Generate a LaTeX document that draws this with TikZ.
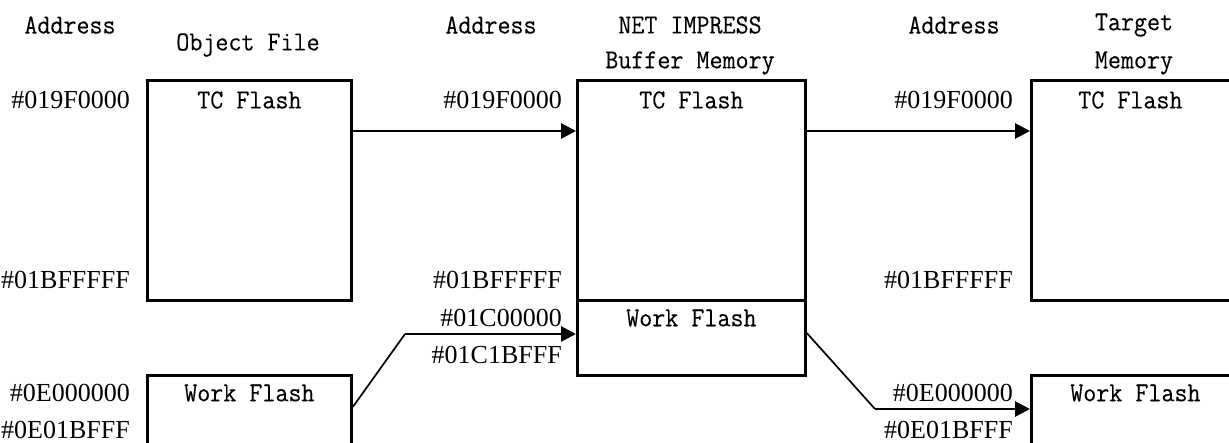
\documentclass[tikz,border=0pt]{standalone}
\usepackage{fontspec}
\setmainfont{Liberation Serif}
\setmonofont[FakeBold=0.2, FakeStretch=0.92]{Latin Modern Mono}
\usetikzlibrary{positioning,arrows.meta}
\tikzset{
  membox/.style={draw, line width=2.8pt, minimum width=204pt, anchor=north west, inner sep=0pt},
  addr/.style={anchor=east, inner sep=0pt, font=\fontsize{26}{30}\selectfont},
  word/.style={inner sep=0pt, font=\ttfamily\fontsize{27.5}{30}\selectfont},
  arrow/.style={line width=2.8pt, -{Triangle[length=15pt,width=15pt]}},
  slant/.style={line width=1.7pt}
}
\newcommand{\wbox}{228pt}

\begin{document}
\begin{tikzpicture}[x=1pt, y=-1pt]
\useasboundingbox (0,0) rectangle (1229,443);
\clip (0,0) rectangle (1229,443);

% memory boxes
\node[membox, minimum height=220pt] (objtc) at (146,79) {};
\node[membox, minimum height=100pt] (objwork) at (146,374) {};
\node[membox, minimum width=\wbox, minimum height=220pt] (buftc) at (576,79) {};
\node[membox, minimum width=\wbox, minimum height=75pt] (bufwork) at (576,299) {};
\node[membox, minimum width=\wbox, minimum height=220pt] (tgttc) at (1030,79) {};
\node[membox, minimum width=\wbox, minimum height=100pt] (tgtwork) at (1030,374) {};

% headings
\node[word] (hdaddr1) at (70,25) {Address};
\node[word] (hdobj) at (248,45) {Object File};
\node[word] (hdaddr2) at (491,25) {Address};
\node[word] (hdbuf1) at (690,25) {NET IMPRESS};
\node[word] (hdbuf2) at (690,63) {Buffer Memory};
\node[word] (hdaddr3) at (954,25) {Address};
\node[word] (hdtgt1) at (1134,25) {Target};
\node[word] (hdtgt2) at (1134,63) {Memory};

% area names
\node[word] (nobjtc) at ([yshift=-21pt]objtc.north) {TC Flash};
\node[word] (nobjwork) at ([yshift=-19pt]objwork.north) {Work Flash};
\node[word] (nbuftc) at ([yshift=-21pt]buftc.north) {TC Flash};
\node[word] (nbufwork) at ([yshift=-19pt]bufwork.north) {Work Flash};
\node[word] (ntgttc) at ([xshift=-15pt, yshift=-21pt]tgttc.north) {TC Flash};
\node[word] (ntgtwork) at ([xshift=-10pt, yshift=-19pt]tgtwork.north) {Work Flash};

% addresses
\node[addr] (a1) at (130,100) {\#019F0000};
\node[addr] (a2) at (130,280) {\#01BFFFFF};
\node[addr] (a3) at (130,393) {\#0E000000};
\node[addr] (a4) at (130,430) {\#0E01BFFF};
\node[addr] (b1) at (562,100) {\#019F0000};
\node[addr] (b2) at (562,280) {\#01BFFFFF};
\node[addr] (b3) at (562,318) {\#01C00000};
\node[addr] (b4) at (562,355) {\#01C1BFFF};
\node[addr] (c1) at (1013,100) {\#019F0000};
\node[addr] (c2) at (1013,280) {\#01BFFFFF};
\node[addr] (c3) at (1013,393) {\#0E000000};
\node[addr] (c4) at (1013,430) {\#0E01BFFF};

% bends
\coordinate (bendw1) at (405,334);
\coordinate (bendw2) at (875,409);

% transfers
\draw[arrow] ([yshift=-52pt]objtc.north east) -- ([yshift=-52pt]buftc.north west);
\draw[arrow] ([yshift=-52pt]buftc.north east) -- ([yshift=-52pt]tgttc.north west);
\draw[slant] ([yshift=-33pt]objwork.north east) -- (bendw1);
\draw[arrow] (bendw1) -- (bufwork.west |- bendw1);
\draw[slant] ([yshift=-34pt]bufwork.north east) -- (bendw2);
\draw[arrow] (bendw2) -- (tgtwork.west |- bendw2);
\end{tikzpicture}
\end{document}
